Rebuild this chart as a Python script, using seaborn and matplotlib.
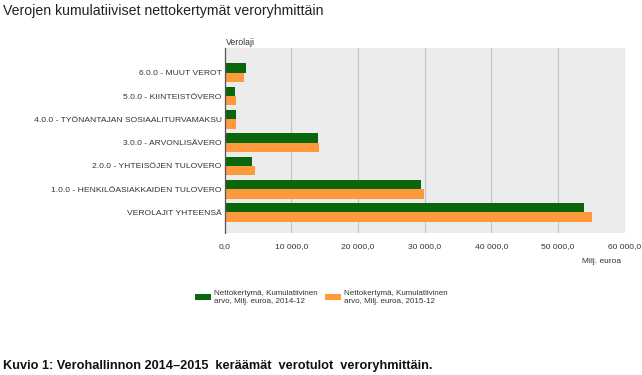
import pandas as pd
import numpy as np
import matplotlib
matplotlib.use('Agg')
import matplotlib.pyplot as plt
import seaborn as sns
from matplotlib.ticker import FuncFormatter

# values (Milj. euroa)
categories = ['6.0.0 - MUUT VEROT', '5.0.0 - KIINTEISTÖVERO',
              '4.0.0 - TYÖNANTAJAN SOSIAALITURVAMAKSU', '3.0.0 - ARVONLISÄVERO',
              '2.0.0 - YHTEISÖJEN TULOVERO', '1.0.0 - HENKILÖASIAKKAIDEN TULOVERO',
              'VEROLAJIT YHTEENSÄ']
values_2014 = [3180, 1580, 1680, 14070, 4080, 29430, 53970]
values_2015 = [2930, 1680, 1680, 14220, 4580, 29970, 55080]
series_names = ['Nettokertymä, Kumulatiivinen\narvo, Milj. euroa, 2014-12',
                'Nettokertymä, Kumulatiivinen\narvo, Milj. euroa, 2015-12']
xticks = [0, 10000, 20000, 30000, 40000, 50000, 60000]

sns.set_style('white')
plt.rcParams['font.family'] = ['Liberation Sans', 'DejaVu Sans']

df = pd.DataFrame({
    'Verolaji': categories * 2,
    'arvo': values_2014 + values_2015,
    'sarja': [series_names[0]] * len(categories) + [series_names[1]] * len(categories),
})

fig = plt.figure(figsize=(6.42, 3.75), dpi=100)
ax = fig.add_axes([0.3497, 0.3787, 0.6231, 0.4925])

sns.barplot(data=df, y='Verolaji', x='arvo', hue='sarja', orient='h',
            palette=['#0a660a', '#ff9a3c'], width=0.8, ax=ax, saturation=1,
            linewidth=0)

ax.set_facecolor('#ececec')
ax.set_xlim(0, 60000)
ax.set_ylim(6.88, -1.05)
ax.set_xticks(xticks)
ax.xaxis.set_major_formatter(FuncFormatter(lambda v, p: f'{v:,.1f}'.replace(',', ' ').replace('.', ',')))
ax.grid(axis='x', color='#c4c4c4', linewidth=0.8)
ax.set_axisbelow(True)
ax.tick_params(axis='both', length=0, labelsize=6.1, labelcolor='#333333')
ax.tick_params(axis='x', pad=7)
ax.tick_params(axis='y', pad=2)
for s in ['top', 'right', 'bottom']:
    ax.spines[s].set_visible(False)
ax.spines['left'].set_color('#555555')
ax.spines['left'].set_linewidth(0.9)
ax.set_xlabel('')
ax.set_ylabel('')

handles, labels = ax.get_legend_handles_labels()
ax.get_legend().remove()
fig.legend(handles, labels, ncol=2, loc='center', bbox_to_anchor=(0.5, 0.207),
           frameon=False, fontsize=5.8, handlelength=2.0, handleheight=0.9,
           columnspacing=0.9, handletextpad=0.35, labelcolor='#333333',
           labelspacing=0.3)

fig.text(0.005, 0.972, 'Verojen kumulatiiviset nettokertymät veroryhmittäin',
         fontsize=10.2, color='#222222', va='center', ha='left')
fig.text(0.352, 0.887, 'Verolaji', fontsize=6.3, color='#333333', va='center')
fig.text(0.968, 0.303, 'Milj. euroa', fontsize=6, color='#333333', va='center', ha='right')
fig.text(0.005, 0.024, 'Kuvio 1: Verohallinnon 2014–2015  keräämät  verotulot  veroryhmittäin.',
         fontsize=9.2, fontweight='bold', color='#111111', va='center', ha='left')

fig.savefig('out.png', dpi=100, facecolor='white')
